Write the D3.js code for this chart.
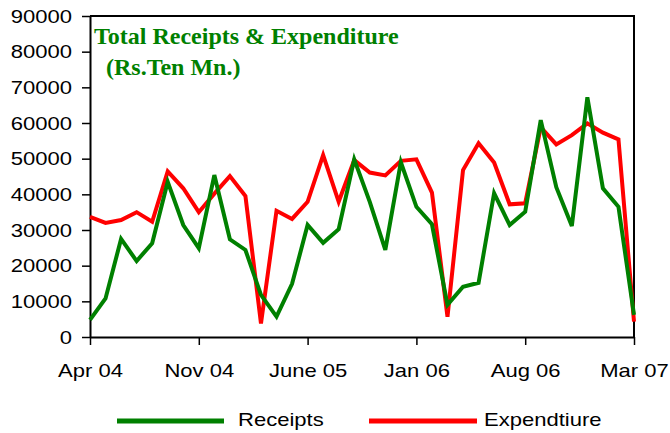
<!DOCTYPE html>
<html>
<head>
<meta charset="utf-8">
<script src="https://cdn.jsdelivr.net/npm/d3@7"></script>
<style>
  html, body { margin: 0; padding: 0; background: #fff; }
  svg { display: block; }
  text { font-family: Arial, "Liberation Sans", sans-serif; fill: #000; }
</style>
</head>
<body>
<svg id="chart" width="670" height="433"></svg>
<script>
const months = [
  "Apr 04","May 04","Jun 04","Jul 04","Aug 04","Sep 04","Oct 04","Nov 04","Dec 04",
  "Jan 05","Feb 05","Mar 05","Apr 05","May 05","June 05","Jul 05","Aug 05","Sep 05",
  "Oct 05","Nov 05","Dec 05","Jan 06","Feb 06","Mar 06","Apr 06","May 06","Jun 06",
  "Jul 06","Aug 06","Sep 06","Oct 06","Nov 06","Dec 06","Jan 07","Feb 07","Mar 07"
];
const receipts = [
  4800, 10800, 27500, 21300, 26300, 43500, 31400, 24900, 45400,
  27400, 24400, 11800, 5700, 14900, 31400, 26400, 30200, 49800,
  37900, 24400, 49000, 36500, 31600, 9000, 14100, 15200, 40300,
  31400, 35100, 60800, 42000, 31100, 67200, 41700, 36500, 6200
];
const expenditure = [
  33700, 32000, 32800, 35000, 32300, 46400, 41700, 35000, 40200,
  45100, 39500, 3800, 35400, 33100, 37900, 51000, 37900, 49600,
  46100, 45300, 49400, 49800, 40500, 5700, 46800, 54300, 48900,
  37200, 37500, 58800, 54000, 56600, 59900, 57300, 55400, 4300
];
const tickIdx = [0, 7, 14, 21, 28, 35];
const tickLabels = ["Apr 04", "Nov 04", "June 05", "Jan 06", "Aug 06", "Mar 07"];
const yTicks = [0, 10000, 20000, 30000, 40000, 50000, 60000, 70000, 80000, 90000];
const seriesNames = ["Receipts", "Expendtiure"];
const seriesColors = ["#008000", "#ff0000"];
const titleLines = ["Total Receipts & Expenditure", "(Rs.Ten Mn.)"];

const svg = d3.select("#chart");
const L = 90, R = 634, T = 16, B = 337;
const SX = 1.16;

const x = d3.scaleLinear().domain([0, months.length - 1]).range([L, R]);
const y = d3.scaleLinear().domain([0, 90000]).range([B, T]);

// frame top & right
svg.append("path")
  .attr("d", `M${L},${T}H${R}V${B}`)
  .attr("fill", "none").attr("stroke", "#000").attr("stroke-width", 2);

// y axis
const yAxis = svg.append("g")
  .attr("transform", `translate(${L},0)`)
  .call(d3.axisLeft(y).tickValues(yTicks).tickSize(8).tickSizeOuter(0).tickFormat(d3.format("d")));
yAxis.select(".domain").attr("stroke-width", 2);
yAxis.selectAll(".tick line").attr("stroke-width", 1.5);
yAxis.selectAll(".tick text")
  .attr("x", 0)
  .attr("transform", `translate(-18,0) scale(${SX},1)`)
  .style("font-size", "19px");

// x axis
const xAxis = svg.append("g")
  .attr("transform", `translate(0,${B})`)
  .call(d3.axisBottom(x).tickValues(tickIdx).tickSize(8).tickSizeOuter(0)
    .tickFormat((d, i) => tickLabels[i]));
xAxis.select(".domain").attr("stroke-width", 2);
xAxis.selectAll(".tick line").attr("stroke-width", 1.5);
xAxis.selectAll(".tick text")
  .attr("y", 0).attr("dy", null)
  .attr("transform", `translate(0,40) scale(${SX},1)`)
  .style("font-size", "19px");

// lines
const line = d3.line().x((d, i) => x(i)).y(d => y(d));
svg.append("path").datum(expenditure)
  .attr("d", line).attr("fill", "none")
  .attr("stroke", seriesColors[1]).attr("stroke-width", 4).attr("stroke-linejoin", "miter");
svg.append("path").datum(receipts)
  .attr("d", line).attr("fill", "none")
  .attr("stroke", seriesColors[0]).attr("stroke-width", 4).attr("stroke-linejoin", "miter");

// title
svg.append("text").attr("x", 94).attr("y", 44)
  .style("font-family", "'Times New Roman', 'Liberation Serif', serif")
  .style("font-weight", "bold").style("font-size", "24px").style("fill", "#008000")
  .text(titleLines[0]);
svg.append("text").attr("x", 106).attr("y", 75)
  .style("font-family", "'Times New Roman', 'Liberation Serif', serif")
  .style("font-weight", "bold").style("font-size", "24px").style("fill", "#008000")
  .text(titleLines[1]);

// legend
const legendPos = [{x1: 117, x2: 224, tx: 238}, {x1: 369, x2: 477, tx: 484}];
seriesNames.forEach((name, k) => {
  const p = legendPos[k];
  svg.append("line").attr("x1", p.x1).attr("x2", p.x2).attr("y1", 421).attr("y2", 421)
    .attr("stroke", seriesColors[k]).attr("stroke-width", 5);
  svg.append("text")
    .attr("transform", `translate(${p.tx},426) scale(${SX},1)`)
    .style("font-size", "19px")
    .text(name);
});
</script>
</body>
</html>
